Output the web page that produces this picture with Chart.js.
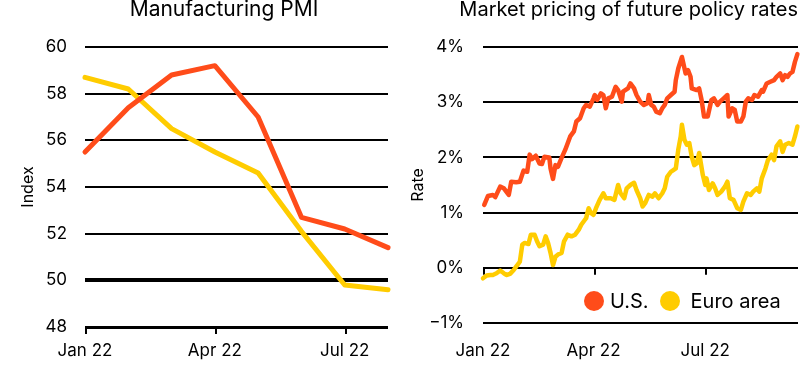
<!DOCTYPE html>
<html>
<head>
<meta charset="utf-8">
<script src="https://cdn.jsdelivr.net/npm/chart.js@4.4.1/dist/chart.umd.min.js"></script>
<style>
  body { margin: 0; background: #fff; font-family: Inter, sans-serif; color: #000; }
  #wrap { position: relative; width: 808px; height: 368px; overflow: hidden; }
  .ttl { position: absolute; top: -3px; font-size: 20px; line-height: 24px; white-space: nowrap; }
  #t1 { left: 0; width: 448px; text-align: center; font-size: 21px; }
  #t2 { right: 10px; text-align: right; }
  .box { position: absolute; top: 0; height: 368px; }
  #b1 { left: 0; width: 400px; }
  #b2 { left: 400px; width: 408px; }
  #legend { position: absolute; left: 584px; top: 289px; display: flex; align-items: center;
            font-size: 20px; line-height: 24px; white-space: nowrap; }
  .dot { display: inline-block; width: 20px; height: 20px; border-radius: 50%; }
</style>
</head>
<body>
<div id="wrap">
  <div class="box" id="b1"><canvas id="pmiChart"></canvas></div>
  <div class="box" id="b2"><canvas id="rateChart"></canvas></div>
  <div class="ttl" id="t1">Manufacturing PMI</div>
  <div class="ttl" id="t2">Market pricing of future policy rates</div>
  <div id="legend">
    <span class="dot" style="background:#ff4c1a;margin-right:6px"></span><span style="margin-right:11px">U.S.</span>
    <span class="dot" style="background:#ffcc00;margin-right:11px"></span><span>Euro area</span>
  </div>
</div>
<script>
const RED = '#ff4c1a';
const YELLOW = '#ffcc00';

// left panel: monthly PMI
const pmiMonths = ['Jan 22', 'Feb 22', 'Mar 22', 'Apr 22', 'May 22', 'Jun 22', 'Jul 22', 'Aug 22'];
const pmiUS = [55.5, 57.4, 58.8, 59.2, 57.0, 52.7, 52.2, 51.4];
const pmiEuro = [58.7, 58.2, 56.5, 55.5, 54.6, 52.1, 49.8, 49.6];
const pmiTickMonths = [0, 3, 6];

// right panel: days since 1 Jan 2022, rate in %
const usDays = [1,4,8,10,14,17,21,23,27,30,33,36,38,40,43,46,48,50,54,55,
  57,59,61,64,67,71,74,76,79,82,84,87,90,91,93,96,98,100,102,105,
  108,110,113,114,118,120,123,125,128,131,134,135,137,139,141,144,146,148,150,153,
  156,157,159,162,165,167,169,170,174,176,178,180,183,186,188,191,193,196,199,200,
  203,205,207,210,212,214,216,219,221,224,227,228,231,234,237,239,242,244,246,248,
  250,252,254,256];
const usRates = [1.14,1.30,1.32,1.28,1.47,1.44,1.32,1.56,1.55,1.56,1.76,1.74,2.05,1.97,2.03,1.89,1.88,2.01,2.00,1.80,
  1.61,1.86,1.83,1.99,2.14,2.38,2.47,2.65,2.71,2.89,2.95,2.92,3.07,3.13,3.04,3.16,3.13,2.89,3.07,3.10,
  3.28,3.22,3.01,3.19,3.25,3.34,3.25,3.13,3.01,2.95,2.98,3.13,2.95,2.92,2.83,2.80,2.89,2.95,3.07,3.13,
  3.19,3.40,3.61,3.82,3.52,3.58,3.46,3.25,3.22,3.25,3.04,2.74,2.74,3.04,3.07,2.95,3.01,3.07,3.13,2.74,
  2.89,2.86,2.65,2.65,2.74,3.01,3.07,3.04,3.13,3.10,3.22,3.19,3.34,3.37,3.40,3.46,3.52,3.40,3.49,3.46,
  3.52,3.55,3.73,3.87];
const euroDays = [0,3,6,8,11,14,17,19,22,25,27,30,32,34,37,39,42,44,46,49,
  51,53,55,57,59,61,64,66,69,72,75,78,80,83,84,86,88,90,92,95,
  98,100,104,107,110,112,115,117,120,123,125,128,130,132,135,138,140,143,146,148,
  150,153,155,157,159,161,162,164,166,168,170,172,174,176,179,181,182,184,187,189,
  191,194,197,199,201,204,207,210,212,215,218,220,223,225,227,230,232,235,237,239,
  242,244,246,249,252,254,256];
const euroRates = [-0.19,-0.14,-0.13,-0.13,-0.10,-0.05,-0.10,-0.13,-0.11,-0.04,0.02,0.11,0.42,0.45,0.43,0.60,0.60,0.48,0.39,0.42,
  0.57,0.45,0.27,0.05,0.20,0.24,0.27,0.48,0.60,0.57,0.60,0.69,0.78,0.87,0.90,1.08,0.99,0.96,1.08,1.23,
  1.35,1.26,1.26,1.23,1.50,1.35,1.26,1.44,1.50,1.54,1.41,1.26,1.11,1.17,1.32,1.29,1.35,1.26,1.35,1.44,
  1.65,1.74,1.77,1.80,2.14,2.38,2.59,2.32,2.23,2.26,2.01,1.86,1.89,2.08,1.68,1.50,1.62,1.41,1.53,1.44,
  1.32,1.38,1.47,1.56,1.26,1.23,1.08,1.05,1.20,1.35,1.32,1.38,1.44,1.38,1.62,1.80,1.95,2.05,1.95,2.20,
  2.29,2.10,2.23,2.26,2.23,2.38,2.56];
const dateTicks = [0, 90, 181];
const dateTickLabels = ['Jan 22', 'Apr 22', 'Jul 22'];

Chart.defaults.font.family = 'Inter, sans-serif';
Chart.defaults.color = '#000';
Chart.defaults.animation = false;
Chart.defaults.maintainAspectRatio = false;

// small tick marks hanging under one horizontal line
const tickMarks = {
  id: 'tickMarks',
  beforeDatasetsDraw(chart, args, opts) {
    const xs = chart.scales.x, ys = chart.scales.y, c = chart.ctx;
    const top = ys.getPixelForValue(opts.at);
    c.save();
    c.strokeStyle = '#000';
    c.lineWidth = 2;
    opts.ticks.forEach(v => {
      const px = Math.round(xs.getPixelForValue(v)) + 1;
      c.beginPath();
      c.moveTo(px, top);
      c.lineTo(px, top + 7);
      c.stroke();
    });
    c.restore();
  }
};

function toPoints(xs, ys) {
  return xs.map((x, i) => ({ x: x, y: ys[i] }));
}

function lineSet(label, data, color, width) {
  return {
    label: label, data: data, borderColor: color, backgroundColor: color,
    borderWidth: width, pointRadius: 0, tension: 0, clip: false,
    borderJoinStyle: 'round', borderCapStyle: 'round'
  };
}

new Chart(document.getElementById('pmiChart'), {
  type: 'line',
  data: {
    datasets: [
      lineSet('U.S.', toPoints(pmiMonths.map((m, i) => i), pmiUS), RED, 5),
      lineSet('Euro area', toPoints(pmiMonths.map((m, i) => i), pmiEuro), YELLOW, 5)
    ]
  },
  options: {
    responsive: true,
    layout: { padding: { left: 19, right: 12, top: 47, bottom: 0 } },
    plugins: {
      legend: { display: false },
      tooltip: { enabled: false },
      tickMarks: { at: 48, ticks: pmiTickMonths }
    },
    scales: {
      x: {
        type: 'linear', min: 0, max: 7,
        grid: { display: false, drawTicks: false },
        border: { display: false },
        afterBuildTicks: s => { s.ticks = pmiTickMonths.map(v => ({ value: v })); },
        afterFit: s => { s.height = 41; },
        ticks: { callback: v => pmiMonths[v], padding: 14, font: { size: 17 }, maxRotation: 0, autoSkip: false }
      },
      y: {
        min: 48, max: 60,
        afterFit: s => { s.width = 66; },
        ticks: { stepSize: 2, padding: 18, font: { size: 17 } },
        title: { display: true, text: 'Index', font: { size: 16 }, padding: { top: 0, bottom: 0 } },
        grid: {
          color: '#000', drawTicks: false,
          lineWidth: c => c.tick.value === 50 ? 4 : (c.tick.value === 48 ? 3 : 2)
        },
        border: { display: false }
      }
    }
  },
  plugins: [tickMarks]
});

new Chart(document.getElementById('rateChart'), {
  type: 'line',
  data: {
    datasets: [
      lineSet('U.S.', toPoints(usDays, usRates), RED, 4.5),
      lineSet('Euro area', toPoints(euroDays, euroRates), YELLOW, 4.5)
    ]
  },
  options: {
    responsive: true,
    layout: { padding: { left: 9, right: 10, top: 47, bottom: 0 } },
    plugins: {
      legend: { display: false },
      tooltip: { enabled: false },
      tickMarks: { at: 0, ticks: dateTicks }
    },
    scales: {
      x: {
        type: 'linear', min: 0, max: 256.5,
        grid: { display: false, drawTicks: false },
        border: { display: false },
        afterBuildTicks: s => { s.ticks = dateTicks.map(v => ({ value: v })); },
        afterFit: s => { s.height = 45; },
        ticks: { callback: v => dateTickLabels[dateTicks.indexOf(v)], padding: 18, font: { size: 17 }, maxRotation: 0, autoSkip: false }
      },
      y: {
        min: -1, max: 4,
        afterFit: s => { s.width = 74; },
        ticks: { stepSize: 1, padding: 19, font: { size: 17 }, callback: v => (v < 0 ? '\u2212' + Math.abs(v) : v) + '%' },
        title: { display: true, text: 'Rate', font: { size: 16 }, padding: { top: 0, bottom: 0 } },
        grid: { color: '#000', drawTicks: false, lineWidth: 2 },
        border: { display: false }
      }
    }
  },
  plugins: [tickMarks]
});
</script>
</body>
</html>
